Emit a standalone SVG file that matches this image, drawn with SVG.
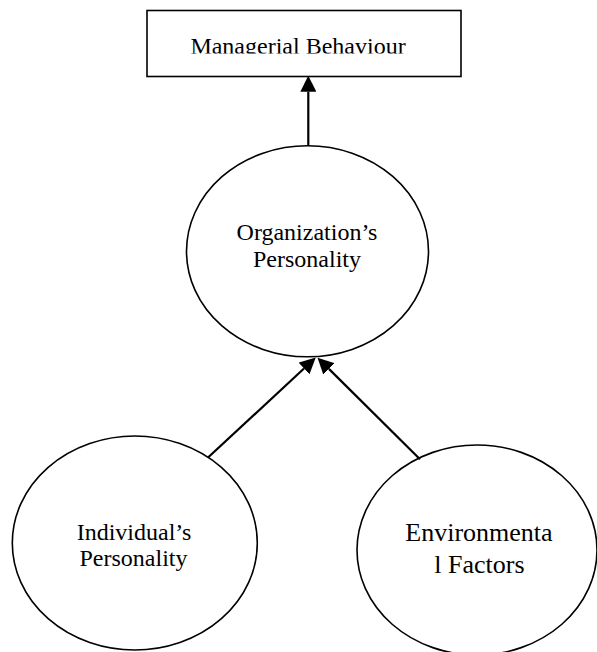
<svg xmlns="http://www.w3.org/2000/svg" width="597" height="652" viewBox="0 0 597 652">
<style>
.n{fill:#fff;stroke:#000;stroke-width:1.6}
.t{font-family:"Liberation Serif","Times New Roman",serif;fill:#000;text-anchor:middle}
.c{stroke:#000;stroke-width:2.2;fill:none}
</style>
<defs>
<marker id="ah" markerUnits="userSpaceOnUse" markerWidth="16" markerHeight="16" viewBox="0 0 15 15" refX="0" refY="7.5" orient="auto">
<path d="M0,0 L15,7.5 L0,15 Z" fill="#000"/>
</marker>
<clipPath id="clipTop"><rect x="147" y="10" width="314" height="43.6"/></clipPath>
</defs>
<rect width="597" height="652" fill="#fff"/>
<g id="managerial-behaviour">
<rect class="n" x="147" y="10.5" width="314" height="66"/>
<text class="t" x="298" y="54" font-size="24" clip-path="url(#clipTop)">Managerial Behaviour</text>
</g>
<g id="organizations-personality">
<ellipse class="n" cx="307.5" cy="251.3" rx="121" ry="105.5"/>
<text class="t" x="307" y="239.5" font-size="24">Organization’s</text>
<text class="t" x="307" y="267.3" font-size="24">Personality</text>
</g>
<g id="individuals-personality">
<ellipse class="n" cx="134.8" cy="543" rx="122.5" ry="107"/>
<text class="t" x="134" y="539.5" font-size="24">Individual’s</text>
<text class="t" x="133.5" y="566" font-size="24">Personality</text>
</g>
<g id="environmental-factors">
<ellipse class="n" cx="477" cy="550" rx="120" ry="105"/>
<text class="t" x="479" y="540.7" font-size="26">Environmenta</text>
<text class="t" x="479.5" y="572.7" font-size="26">l Factors</text>
</g>
<g id="connectors">
<line class="c" x1="308.3" y1="146" x2="308.3" y2="91.7" marker-end="url(#ah)"/>
<line class="c" x1="208.3" y1="457.3" x2="304" y2="368.5" marker-end="url(#ah)"/>
<line class="c" x1="420" y1="459.3" x2="328.9" y2="368.9" marker-end="url(#ah)"/>
</g>
</svg>
